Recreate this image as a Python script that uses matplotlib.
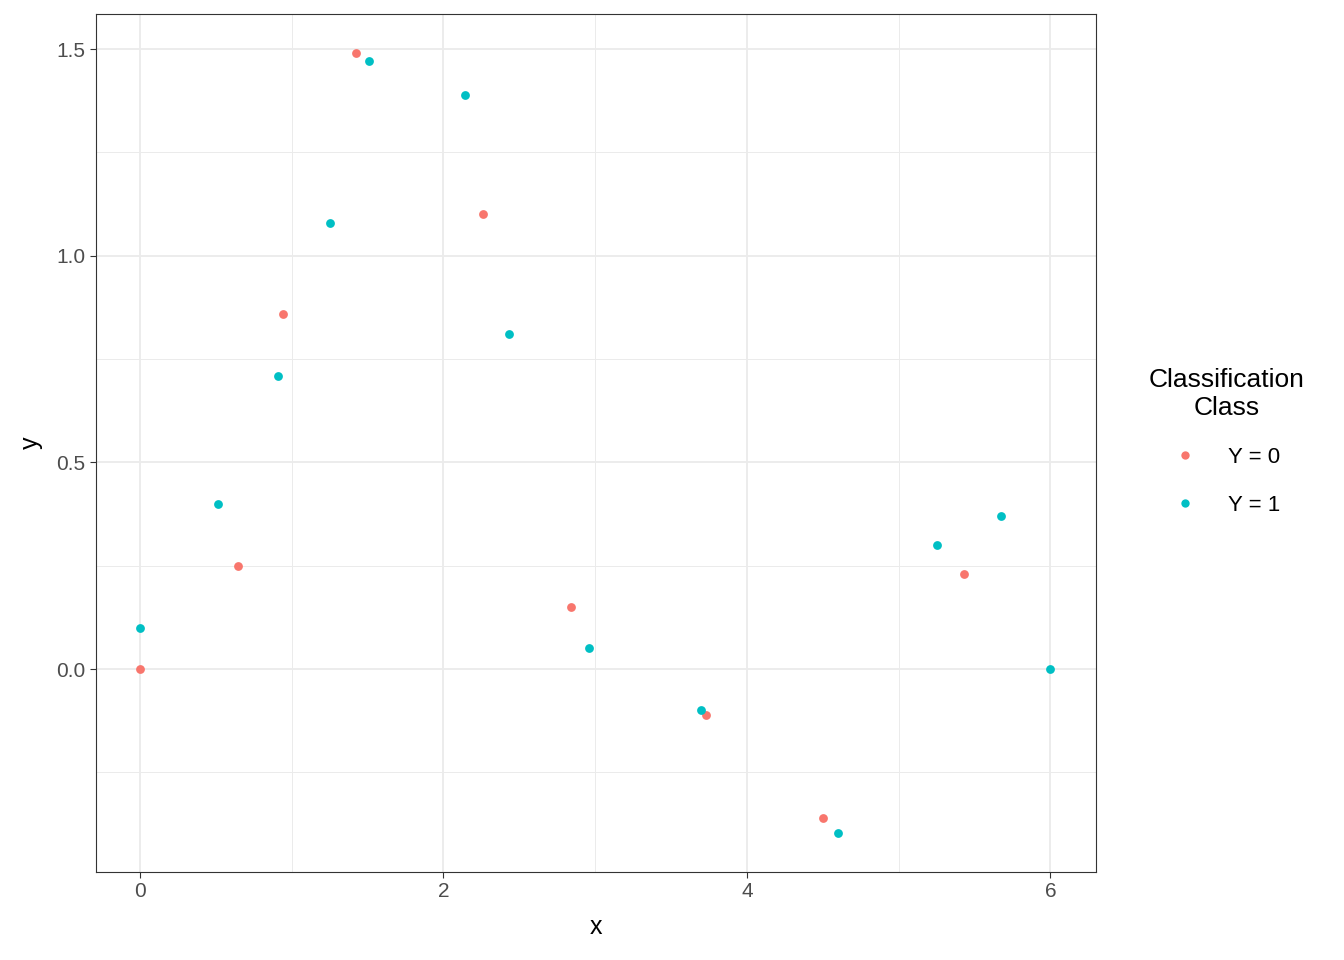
import matplotlib
matplotlib.use("Agg")
import matplotlib.pyplot as plt
from matplotlib.lines import Line2D

plt.rcParams['font.family'] = ['Liberation Sans', 'DejaVu Sans']

x0 = [0, 0.646, 0.943, 1.424, 2.26, 2.84, 3.73, 4.50, 5.43]
y0 = [0, 0.249, 0.859, 1.490, 1.101, 0.150, -0.111, -0.360, 0.230]
x1 = [0, 0.514, 0.91, 1.252, 1.51, 2.142, 2.432, 2.96, 3.70, 4.60, 5.25, 5.675, 6]
y1 = [0.099, 0.399, 0.709, 1.079, 1.471, 1.389, 0.811, 0.051, -0.099, -0.397, 0.300, 0.370, 0]
labels = ["Y = 0", "Y = 1"]
colors = ["#F8766D", "#00BFC4"]

fig = plt.figure(figsize=(13.44, 9.6), dpi=100)
ax = fig.add_axes([96/1344, 1-872/960, 1000/1344, 858/960])
ax.scatter(x0, y0, s=40, color=colors[0], zorder=3, linewidths=0)
ax.scatter(x1, y1, s=40, color=colors[1], zorder=3, linewidths=0)
ax.set_xlim(-0.29, 6.30)
ax.set_ylim(-0.491, 1.585)
ax.set_xticks([0, 2, 4, 6])
ax.set_yticks([0.0, 0.5, 1.0, 1.5])
ax.set_yticklabels(["0.0", "0.5", "1.0", "1.5"])
ax.set_xticks([1, 3, 5], minor=True)
ax.set_yticks([-0.25, 0.25, 0.75, 1.25], minor=True)
ax.grid(which="major", color="#EBEBEB", lw=1.3)
ax.grid(which="minor", color="#EBEBEB", lw=0.7)
ax.set_axisbelow(True)
ax.tick_params(which="minor", length=0)
ax.tick_params(which="major", length=4, color="#333333", labelsize=15, labelcolor="#4D4D4D")
for s in ax.spines.values():
    s.set_color("#333333")
ax.set_xlabel("x", fontsize=18, labelpad=10)
ax.set_ylabel("y", fontsize=18, labelpad=10)
handles = [Line2D([], [], ls="", marker="o", ms=6, color=c, markeredgewidth=0) for c in colors]
leg = fig.legend(handles, labels, title="Classification\nClass", loc="center", bbox_to_anchor=(1227/1344, 1-442/960),
           frameon=False, fontsize=16, title_fontsize=19, handlelength=1.0, handletextpad=1.4,
           labelspacing=1.2)
leg.get_title().set_multialignment("center")
fig.savefig("out.png", dpi=100)
